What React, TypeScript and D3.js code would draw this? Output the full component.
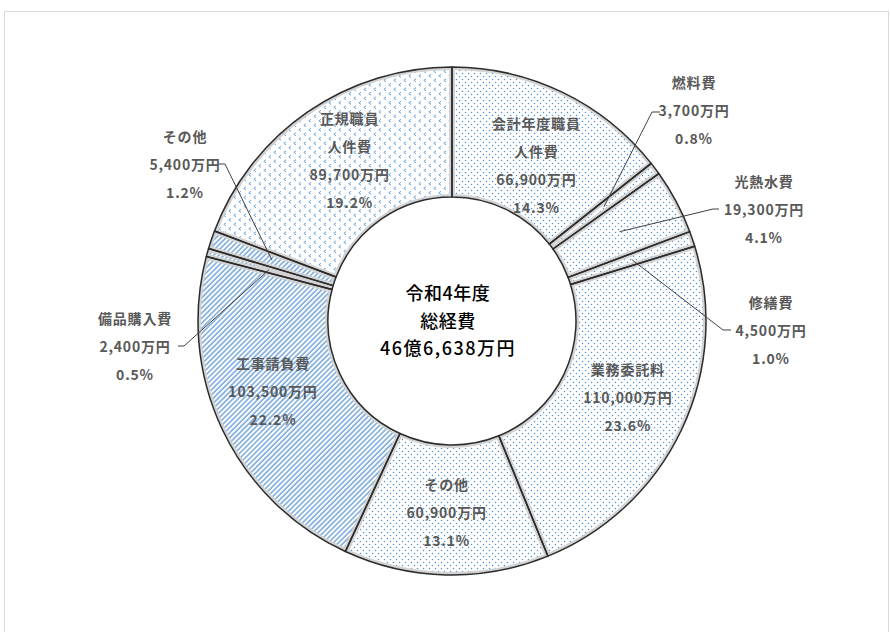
import React from 'react';
import * as d3 from 'd3';

const W = 890;
const H = 632;

// 令和4年度 経費内訳 (万円)
const names = [
  ['会計年度職員', '人件費'],
  ['燃料費'],
  ['光熱水費'],
  ['修繕費'],
  ['業務委託料'],
  ['その他'],
  ['工事請負費'],
  ['備品購入費'],
  ['その他'],
  ['正規職員', '人件費'],
];
const amounts = [66900, 3700, 19300, 4500, 110000, 60900, 103500, 2400, 5400, 89700];
const percents = ['14.3%', '0.8%', '4.1%', '1.0%', '23.6%', '13.1%', '22.2%', '0.5%', '1.2%', '19.2%'];
const patterns = ['dots', 'dots', 'dots', 'dots', 'dots', 'dots', 'hatch', 'hatch', 'hatch', 'chevron'];
const centerLines = ['令和4年度', '総経費', '46億6,638万円'];

// label placement: inside labels are offset from the centroid, outside ones get a leader
type InLabel = { kind: 'in'; dx: number; dy: number };
type OutLabel = { kind: 'out'; x: number; y: number; elbow: [number, number]; tip: [number, number] };
const labelLayout: (InLabel | OutLabel)[] = [
  { kind: 'in', dx: 2, dy: 14 },
  { kind: 'out', x: 694, y: 82, elbow: [652, 112], tip: [660, 112] },
  { kind: 'out', x: 764, y: 181, elbow: [713, 209], tip: [719, 209] },
  { kind: 'out', x: 771, y: 302, elbow: [723, 330], tip: [731, 330] },
  { kind: 'in', dx: 5, dy: -5 },
  { kind: 'in', dx: -1, dy: 2 },
  { kind: 'in', dx: -8, dy: -11 },
  { kind: 'out', x: 135, y: 318, elbow: [184, 346], tip: [178, 346] },
  { kind: 'out', x: 185, y: 136, elbow: [225, 164], tip: [218, 164] },
  { kind: 'in', dx: 5, dy: -5 },
];

const cx = 452;
const cy = 321;
const outerR = 254;
const innerR = 124;
const lineGap = 28;

const fmt = d3.format(',');

const App: React.FC = () => {
  const pie = d3.pie<number>().sort(null).value(d => d).startAngle(0).endAngle(Math.PI * 2);
  const arcs = pie(amounts);
  const arc = d3.arc<d3.PieArcDatum<number>>().innerRadius(innerR).outerRadius(outerR);
  const leaderArc = d3.arc<d3.PieArcDatum<number>>().innerRadius(190).outerRadius(190);

  const labelFont = {
    fontFamily: '"Noto Sans CJK JP", "Noto Sans", sans-serif',
    fontWeight: 700,
    fontSize: 14,
    letterSpacing: 0.8,
    fill: '#595959',
  };

  return (
    <div style={{ position: 'absolute', left: 0, top: 0 }}>
      <svg width={W} height={H} style={{ display: 'block' }}>
        <defs>
          <pattern id="dots" patternUnits="userSpaceOnUse" width={6} height={6}>
            <rect width={6} height={6} fill="#ffffff" />
            <circle cx={1.5} cy={1.5} r={0.75} fill="#4f92d2" />
            <circle cx={4.5} cy={4.5} r={0.75} fill="#4f92d2" />
          </pattern>
          <pattern id="hatch" patternUnits="userSpaceOnUse" width={3.6} height={3.6} patternTransform="rotate(45)">
            <rect width={3.6} height={3.6} fill="#ffffff" />
            <line x1={1} y1={0} x2={1} y2={3.6} stroke="#6a9fd8" strokeWidth={1.4} />
          </pattern>
          <pattern id="chevron" patternUnits="userSpaceOnUse" width={10} height={9}>
            <rect width={10} height={9} fill="#ffffff" />
            <path d="M4,0.8 L1.8,2.3 L4,3.8" fill="none" stroke="#5b9bd5" strokeWidth={0.9} />
            <path d="M9,5.3 L6.8,6.8 L9,8.3" fill="none" stroke="#5b9bd5" strokeWidth={0.9} />
          </pattern>
          {arcs.map((a, i) => (
            <clipPath id={`clip-${i}`} key={i}>
              <path d={arc(a) || ''} transform={`translate(${cx},${cy})`} />
            </clipPath>
          ))}
        </defs>

        <rect x={4.5} y={11.5} width={884} height={640} fill="#ffffff" stroke="#d9d9d9" />

        <g>
          {arcs.map((a, i) => (
            <path key={`f${i}`} d={arc(a) || ''} transform={`translate(${cx},${cy})`} fill={`url(#${patterns[i]})`} />
          ))}
          {arcs.map((a, i) => (
            <g key={`g${i}`} clipPath={`url(#clip-${i})`}>
              <path d={arc(a) || ''} transform={`translate(${cx},${cy})`} fill="none" stroke="#d2d2d2" strokeWidth={6} />
            </g>
          ))}
          {arcs.map((a, i) => (
            <path key={`s${i}`} d={arc(a) || ''} transform={`translate(${cx},${cy})`} fill="none" stroke="#2b2b2b" strokeWidth={1.5} strokeLinejoin="round" />
          ))}
        </g>

        {arcs.map((a, i) => {
          const lay = labelLayout[i];
          const lines = [...names[i], `${fmt(amounts[i])}万円`, percents[i]];
          if (lay.kind === 'in') {
            const [mx, my] = arc.centroid(a);
            const x = cx + mx + lay.dx;
            const y0 = cy + my + lay.dy - ((lines.length - 1) * lineGap) / 2;
            return (
              <g key={`l${i}`}>
                {lines.map((t, k) => (
                  <text key={k} x={x} y={y0 + k * lineGap} textAnchor="middle" dominantBaseline="central" style={labelFont}>
                    {t}
                  </text>
                ))}
              </g>
            );
          }
          const [px, py] = leaderArc.centroid(a);
          const pts: [number, number][] = [[cx + px, cy + py], lay.elbow, lay.tip];
          return (
            <g key={`l${i}`}>
              <path d={d3.line()(pts) || ''} fill="none" stroke="#404040" strokeWidth={1} />
              {lines.map((t, k) => (
                <text key={k} x={lay.x} y={lay.y + k * lineGap} textAnchor="middle" dominantBaseline="central" style={labelFont}>
                  {t}
                </text>
              ))}
            </g>
          );
        })}

        {centerLines.map((t, k) => (
          <text
            key={`c${k}`}
            x={cx - 4}
            y={292 + k * 27.5}
            textAnchor="middle"
            dominantBaseline="central"
            style={{
              fontFamily: '"Noto Sans CJK JP", sans-serif',
              fontWeight: 500,
              fontSize: 18,
              letterSpacing: k === 2 ? 1.5 : 0.5,
              fill: '#000000',
            }}
          >
            {t}
          </text>
        ))}
      </svg>
    </div>
  );
};

export default App;
